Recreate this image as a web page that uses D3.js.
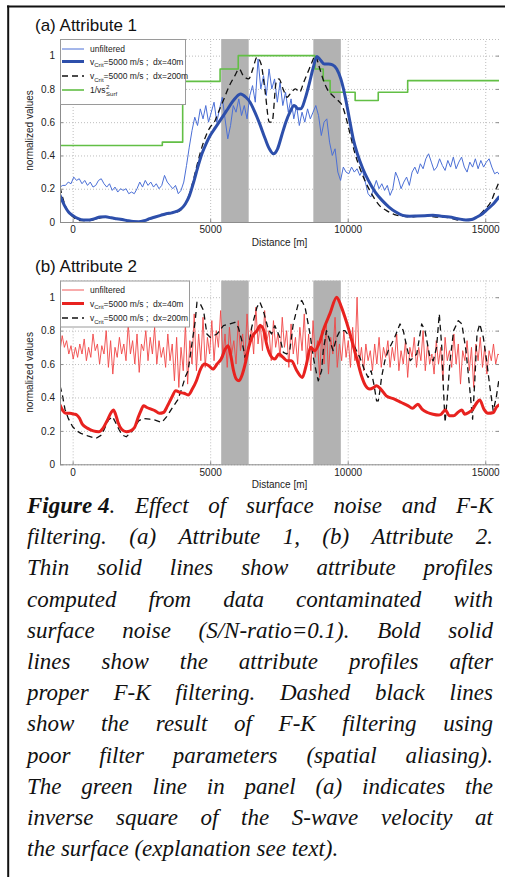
<!DOCTYPE html>
<html>
<head>
<meta charset="utf-8">
<script src="https://cdn.jsdelivr.net/npm/d3@7"></script>
<style>
html, body { margin: 0; padding: 0; background: #fff; }
svg { display: block; }
</style>
</head>
<body>
<script>
// ---- data ----
const xDomain = [-460, 15500]
const tickX = [0, 5000, 10000, 15000]
const tickY = [0, 0.2, 0.4, 0.6, 0.8, 1]
const bandStart = [5400, 8750]
const bandEnd = [6400, 9750]

// panel (a) unfiltered: regular grid, start -460 m, step 100 m
const unfiltA_x0 = -460, unfiltA_dx = 100
const unfiltA = [
  0.21, 0.22, 0.22, 0.24, 0.23, 0.27, 0.25, 0.26, 0.23, 0.25,
  0.22, 0.24, 0.21, 0.22, 0.25, 0.26, 0.23, 0.21, 0.23, 0.19,
  0.21, 0.18, 0.20, 0.19, 0.20, 0.17, 0.18, 0.17, 0.20, 0.24,
  0.21, 0.25, 0.22, 0.24, 0.21, 0.23, 0.20, 0.22, 0.28, 0.24,
  0.22, 0.20, 0.22, 0.17, 0.19,
  0.24, 0.34, 0.45, 0.55, 0.63, 0.58, 0.68, 0.62, 0.70, 0.60,
  0.66, 0.72, 0.60, 0.68, 0.75, 0.62, 0.50, 0.58, 0.70, 0.66,
  0.74, 0.64, 0.70, 0.62, 0.76, 0.82, 0.72, 0.98, 0.80, 0.88,
  0.76, 0.92, 0.80, 0.86, 0.72, 0.84, 0.70, 0.78, 0.66, 0.74,
  0.62, 0.70, 0.58, 0.66, 0.60, 0.68, 0.62, 0.66, 0.70, 0.64,
  0.52, 0.60, 0.62, 0.48, 0.40, 0.44, 0.30, 0.25, 0.33, 0.30,
  0.29, 0.33, 0.30, 0.32, 0.28, 0.31, 0.24, 0.17, 0.15, 0.20,
  0.25, 0.20, 0.23, 0.19, 0.22, 0.16, 0.20, 0.30, 0.26, 0.20,
  0.24, 0.27, 0.22, 0.30, 0.33, 0.29, 0.35, 0.32, 0.38, 0.41,
  0.36, 0.31, 0.33, 0.38, 0.34, 0.31, 0.37, 0.33, 0.39, 0.32,
  0.36, 0.39, 0.33, 0.30, 0.36, 0.33, 0.38, 0.32, 0.37, 0.33,
  0.36, 0.38, 0.33, 0.29, 0.30, 0.28
]

// panel (a) proper F-K filtering (dx=40m)
const filtA = [
  [-460, 0.16], [-300, 0.10], [-150, 0.06], [0, 0.04], [200, 0.02], [400, 0.012],
  [600, 0.012], [800, 0.02], [1000, 0.03], [1200, 0.032], [1400, 0.025], [1600, 0.02],
  [1800, 0.015], [2000, 0.008], [2200, 0.003], [2400, 0.002], [2600, 0.008], [2800, 0.02],
  [3000, 0.03], [3200, 0.04], [3400, 0.05], [3600, 0.055], [3800, 0.065], [3950, 0.08],
  [4100, 0.11], [4250, 0.16], [4400, 0.24], [4550, 0.33], [4700, 0.41], [4850, 0.47],
  [5000, 0.52], [5200, 0.57], [5400, 0.62], [5600, 0.67], [5800, 0.72], [6000, 0.76],
  [6100, 0.77], [6300, 0.75], [6450, 0.72], [6600, 0.67], [6800, 0.59], [7000, 0.50],
  [7150, 0.44], [7300, 0.41], [7450, 0.44], [7600, 0.52], [7750, 0.60], [7900, 0.66],
  [8050, 0.70], [8200, 0.68], [8300, 0.68], [8450, 0.74], [8600, 0.83], [8750, 0.93],
  [8880, 0.995], [9000, 0.975], [9150, 0.95], [9300, 0.95], [9450, 0.945], [9600, 0.92],
  [9750, 0.86], [9900, 0.76], [10050, 0.63], [10200, 0.50], [10350, 0.41], [10550, 0.32],
  [10750, 0.25], [11000, 0.18], [11250, 0.13], [11500, 0.09], [11750, 0.06], [12000, 0.04],
  [12250, 0.035], [12500, 0.036], [12800, 0.038], [13100, 0.04], [13400, 0.035], [13700, 0.03],
  [14000, 0.02], [14300, 0.012], [14500, 0.015], [14700, 0.03], [14900, 0.05], [15100, 0.08],
  [15300, 0.11], [15500, 0.15]
]

// panel (a) poor filter parameters (dx=200m)
const aliasA = [
  [-460, 0.21], [-400, 0.17], [-250, 0.09], [-100, 0.05], [100, 0.02], [300, 0.008],
  [600, 0.008], [900, 0.02], [1100, 0.028], [1300, 0.026], [1600, 0.018], [1900, 0.01],
  [2200, 0.0], [2500, 0.0], [2700, 0.01], [2900, 0.025], [3200, 0.04], [3500, 0.05],
  [3800, 0.06], [3950, 0.075], [4100, 0.11], [4250, 0.17], [4400, 0.26], [4550, 0.36],
  [4700, 0.45], [4850, 0.52], [5000, 0.57], [5150, 0.60], [5300, 0.66], [5500, 0.74],
  [5700, 0.82], [5900, 0.88], [6050, 0.92], [6200, 0.88], [6400, 0.86], [6550, 0.92],
  [6700, 0.99], [6850, 0.95], [7000, 0.78], [7150, 0.60], [7250, 0.60], [7400, 0.84],
  [7500, 0.86], [7650, 0.80], [7800, 0.75], [7950, 0.78], [8100, 0.80], [8250, 0.78],
  [8400, 0.84], [8550, 0.90], [8700, 0.96], [8820, 1.0], [8950, 0.94], [9100, 0.86],
  [9250, 0.80], [9450, 0.76], [9650, 0.73], [9800, 0.70], [9950, 0.62], [10100, 0.52],
  [10250, 0.42], [10450, 0.32], [10650, 0.24], [10900, 0.16], [11150, 0.10], [11400, 0.07],
  [11700, 0.045], [12000, 0.035], [12300, 0.03], [12600, 0.035], [12900, 0.035], [13200, 0.03],
  [13500, 0.03], [13800, 0.02], [14100, 0.01], [14400, 0.01], [14700, 0.03], [14950, 0.07],
  [15200, 0.12], [15350, 0.18], [15500, 0.24]
]

// panel (a) 1/vs^2 at the surface (step function, value holds until next x)
const greenX = [-460, 3260, 4000, 5360, 6020, 8810, 9110, 9360, 10270, 11110, 12180, 15500]
const greenY = [0.46, 0.48, 0.845, 0.92, 1.0, 0.92, 0.85, 0.78, 0.73, 0.78, 0.85, 0.85]

// panel (b) unfiltered: regular grid, start -460 m, step 80 m
const unfiltB_x0 = -460, unfiltB_dx = 80
const unfiltB = [
  0.68, 0.77, 0.70, 0.74, 0.66, 0.71, 0.63, 0.70, 0.64, 0.72,
  0.66, 0.75, 0.62, 0.70, 0.64, 0.78, 0.68, 0.72, 0.60, 0.71,
  0.66, 0.80, 0.58, 0.74, 0.54, 0.70, 0.64, 0.76, 0.66, 0.72,
  0.62, 0.84, 0.66, 0.74, 0.60, 0.78, 0.55, 0.72, 0.68, 0.80,
  0.62, 0.76, 0.66, 0.82, 0.60, 0.74, 0.64, 0.70, 0.58, 0.78,
  0.62, 0.72, 0.50, 0.76, 0.46, 0.70, 0.56, 0.84, 0.48, 0.74,
  0.60, 0.90, 0.56, 0.78, 0.62, 0.88, 0.58, 0.76, 0.66, 0.86,
  0.62, 0.80, 0.70, 0.92, 0.64, 0.78, 0.58, 0.82, 0.66, 0.74,
  0.60, 0.86, 0.68, 0.78, 0.62, 0.90, 0.70, 0.82, 0.66, 0.94,
  0.72, 0.84, 0.68, 0.92, 0.74, 0.80, 0.62, 0.86, 0.70, 0.78,
  0.64, 0.88, 0.70, 0.80, 0.58, 0.84, 0.66, 0.76, 0.60, 0.82,
  0.68, 0.90, 0.62, 0.78, 0.56, 0.86, 0.64, 0.74, 0.52, 0.80,
  0.60, 0.84, 0.54, 0.76, 0.66, 0.88, 0.58, 0.72, 0.62, 0.80,
  0.64, 0.74, 0.58, 0.82, 0.62, 1.00, 0.60, 0.70, 0.56, 0.72,
  0.62, 0.68, 0.56, 0.72, 0.60, 0.76, 0.58, 0.70, 0.64, 0.74,
  0.58, 0.70, 0.62, 0.78, 0.56, 0.68, 0.60, 0.74, 0.52, 0.70,
  0.64, 0.76, 0.58, 0.70, 0.62, 0.80, 0.56, 0.72, 0.60, 0.66,
  0.54, 0.74, 0.60, 0.70, 0.50, 0.76, 0.62, 0.68, 0.58, 0.78,
  0.60, 0.72, 0.48, 0.68, 0.62, 0.74, 0.56, 0.70, 0.46, 0.72,
  0.62, 0.76, 0.58, 0.70, 0.54, 0.68, 0.62, 0.72, 0.60, 0.66,
  0.65
]

// panel (b) proper F-K filtering (dx=40m)
const filtB = [
  [-460, 0.355], [-350, 0.32], [-250, 0.305], [-100, 0.305], [50, 0.30], [150, 0.295],
  [250, 0.275], [350, 0.24], [550, 0.215], [750, 0.20], [950, 0.195], [1100, 0.215],
  [1250, 0.26], [1400, 0.31], [1480, 0.325], [1560, 0.30], [1650, 0.25], [1780, 0.21],
  [1950, 0.195], [2100, 0.20], [2250, 0.22], [2380, 0.28], [2480, 0.32], [2580, 0.35],
  [2700, 0.34], [2850, 0.33], [3000, 0.32], [3150, 0.305], [3300, 0.31], [3450, 0.35],
  [3600, 0.40], [3750, 0.44], [3900, 0.43], [4050, 0.425], [4200, 0.415], [4350, 0.45],
  [4500, 0.50], [4650, 0.57], [4800, 0.60], [4950, 0.59], [5100, 0.57], [5250, 0.60],
  [5400, 0.63], [5550, 0.69], [5650, 0.71], [5750, 0.65], [5850, 0.56], [5950, 0.51],
  [6050, 0.50], [6150, 0.53], [6300, 0.62], [6400, 0.70], [6550, 0.77], [6700, 0.80],
  [6820, 0.83], [6950, 0.80], [7050, 0.72], [7200, 0.65], [7350, 0.63], [7500, 0.66],
  [7650, 0.64], [7800, 0.62], [7950, 0.62], [8150, 0.56], [8350, 0.52], [8500, 0.60],
  [8650, 0.70], [8800, 0.68], [8950, 0.72], [9150, 0.82], [9350, 0.90], [9600, 1.0],
  [9750, 0.95], [9900, 0.88], [10050, 0.80], [10200, 0.71], [10350, 0.62], [10500, 0.53],
  [10650, 0.47], [10800, 0.45], [10950, 0.46], [11050, 0.47], [11200, 0.45], [11400, 0.41],
  [11700, 0.39], [11950, 0.37], [12200, 0.35], [12350, 0.335], [12550, 0.36], [12700, 0.33],
  [12900, 0.31], [13100, 0.30], [13300, 0.295], [13400, 0.30], [13550, 0.325], [13700, 0.29],
  [13850, 0.29], [14000, 0.31], [14150, 0.325], [14250, 0.30], [14400, 0.31], [14550, 0.33],
  [14700, 0.37], [14800, 0.385], [14950, 0.33], [15100, 0.305], [15300, 0.31], [15400, 0.34],
  [15500, 0.355]
]

// panel (b) poor filter parameters (dx=200m)
const aliasB = [
  [-460, 0.47], [-380, 0.42], [-280, 0.33], [-160, 0.275], [0, 0.225], [150, 0.20],
  [300, 0.185], [550, 0.17], [850, 0.155], [1050, 0.175], [1300, 0.265], [1450, 0.285],
  [1560, 0.25], [1680, 0.21], [1800, 0.175], [1950, 0.165], [2150, 0.195], [2400, 0.26],
  [2560, 0.275], [2800, 0.27], [3000, 0.265], [3240, 0.25], [3420, 0.285], [3650, 0.345],
  [3820, 0.385], [3950, 0.445], [4100, 0.525], [4200, 0.56], [4300, 0.68], [4450, 0.85],
  [4520, 0.97], [4640, 0.96], [4760, 0.92], [4880, 0.78], [5000, 0.76], [5250, 0.78],
  [5480, 0.83], [5720, 0.84], [5900, 0.85], [6020, 0.82], [6150, 0.74], [6270, 0.64],
  [6390, 0.70], [6510, 0.82], [6700, 0.94], [6810, 0.97], [6930, 0.92], [7110, 0.81],
  [7230, 0.78], [7350, 0.83], [7530, 0.76], [7660, 0.67], [7780, 0.66], [7900, 0.69],
  [8020, 0.84], [8200, 0.96], [8330, 0.98], [8450, 0.94], [8630, 0.78], [8750, 0.64],
  [8870, 0.54], [8930, 0.50], [9050, 0.56], [9110, 0.68], [9230, 0.80], [9350, 0.74],
  [9470, 0.68], [9600, 0.76], [9720, 0.80], [9900, 0.80], [10080, 0.76], [10260, 0.70],
  [10440, 0.64], [10620, 0.56], [10740, 0.52], [10850, 0.56], [10950, 0.48], [11050, 0.38],
  [11110, 0.38], [11170, 0.44], [11230, 0.52], [11350, 0.62], [11470, 0.68], [11710, 0.76],
  [11900, 0.84], [12020, 0.80], [12150, 0.70], [12270, 0.62], [12510, 0.66], [12690, 0.84],
  [12810, 0.80], [12990, 0.64], [13110, 0.62], [13230, 0.70], [13330, 0.90], [13420, 0.70],
  [13480, 0.45], [13540, 0.25], [13620, 0.40], [13720, 0.62], [13850, 0.80], [14020, 0.86],
  [14150, 0.84], [14300, 0.68], [14420, 0.48], [14540, 0.27], [14620, 0.50], [14700, 0.78],
  [14800, 0.84], [14930, 0.76], [15050, 0.62], [15170, 0.46], [15290, 0.32], [15400, 0.40],
  [15500, 0.51]
]

// caption; the first two words form the bold "Figure 4" label
const captionLines = [
  'Figure 4.  Effect of surface noise and F-K',
  'filtering. (a) Attribute 1, (b) Attribute 2.',
  'Thin solid lines show attribute profiles',
  'computed from data contaminated with',
  'surface noise (S/N-ratio=0.1). Bold solid',
  'lines show the attribute profiles after',
  'proper F-K filtering. Dashed black lines',
  'show the result of F-K filtering using',
  'poor filter parameters (spatial aliasing).',
  'The green line in panel (a) indicates the',
  'inverse square of the S-wave velocity at',
  'the surface (explanation see text).'
]

// ---- drawing ----
const W = 505, H = 877
const sans = 'Liberation Sans, Arial, sans-serif'
const svg = d3.select('body').append('svg').attr('width', W).attr('height', H)

// frame (left and top rule of the figure box)
svg.append('line').attr('x1', 7).attr('y1', 6.5).attr('x2', W).attr('y2', 6.5)
  .attr('stroke', '#111').attr('stroke-width', 2)
svg.append('line').attr('x1', 8.2).attr('y1', 5.5).attr('x2', 8.2).attr('y2', H)
  .attr('stroke', '#111').attr('stroke-width', 2)

const x = d3.scaleLinear().domain(xDomain).range([60, 499])

const gridPts = (vals, x0, dx) => vals.map((v, i) => [x0 + i*dx, v])

function drawPanel(p) {
  const {top, bottom, id} = p
  const y = d3.scaleLinear().domain([0, 1.1]).range([bottom, top])
  const g = svg.append('g').attr('id', id)

  svg.append('clipPath').attr('id', `clip-${id}`).append('rect')
    .attr('x', 60).attr('y', top).attr('width', 439).attr('height', bottom - top)

  // title
  svg.append('text').attr('x', 35).attr('y', p.titleY)
    .style('font', `17px ${sans}`).attr('fill', '#111').text(p.title)

  // dotted grid
  g.append('g').attr('transform', `translate(0,${bottom})`)
    .call(d3.axisBottom(x).tickValues(tickX).tickSize(-(bottom - top)).tickFormat(''))
    .call(s => s.select('.domain').remove())
    .selectAll('line').attr('stroke', '#bdbdbd').attr('stroke-dasharray', '1,2')
  g.append('g').attr('transform', 'translate(60,0)')
    .call(d3.axisLeft(y).tickValues(tickY.concat([1.1])).tickSize(-439).tickFormat(''))
    .call(s => s.select('.domain').remove())
    .selectAll('line').attr('stroke', '#bdbdbd').attr('stroke-dasharray', '1,2')

  // grey bands
  bandStart.forEach((s, i) => {
    g.append('rect').attr('x', x(s)).attr('y', top)
      .attr('width', x(bandEnd[i]) - x(s)).attr('height', bottom - top)
      .attr('fill', '#b2b2b2')
  })

  // series
  const lines = g.append('g').attr('clip-path', `url(#clip-${id})`)
  p.series.forEach(s => {
    const gen = d3.line().x(d => x(d[0])).y(d => y(d[1])).curve(s.curve || d3.curveLinear)
    lines.append('path').datum(s.data).attr('d', gen)
      .attr('fill', 'none').attr('stroke', s.color).attr('stroke-width', s.width)
      .attr('stroke-dasharray', s.dash || null)
      .attr('stroke-linejoin', 'round').attr('stroke-linecap', s.dash ? 'butt' : 'round')
  })

  // axes
  const ax = g.append('g').attr('transform', `translate(0,${bottom})`)
    .call(d3.axisBottom(x).tickValues(tickX).tickSizeInner(-3).tickSizeOuter(0)
      .tickPadding(p.xPad).tickFormat(d3.format('d')))
  const ay = g.append('g').attr('transform', 'translate(60,0)')
    .call(d3.axisLeft(y).tickValues(tickY).tickSizeInner(-3).tickSizeOuter(0).tickPadding(5)
      .tickFormat(d => d === 0 ? '0' : d === 1 ? '1' : d.toFixed(1)))
  ;[ax, ay].forEach(a => {
    a.select('.domain').attr('stroke', '#8c8c8c')
    a.selectAll('.tick line').attr('stroke', '#8c8c8c')
    a.selectAll('text').style('font', `10px ${sans}`).attr('fill', '#222')
  })
  // right-hand ticks (box)
  g.append('g').attr('transform', 'translate(499,0)')
    .call(d3.axisRight(y).tickValues(tickY).tickSizeInner(-3).tickSizeOuter(0).tickFormat(''))
    .call(s => s.select('.domain').remove())
    .selectAll('line').attr('stroke', '#8c8c8c')

  g.append('text').attr('x', 279.5).attr('y', bottom + 24).attr('text-anchor', 'middle')
    .style('font', `10px ${sans}`).attr('fill', '#222').text('Distance [m]')
  g.append('text').attr('transform', `translate(33,${(top + bottom)/2}) rotate(-90)`)
    .attr('text-anchor', 'middle')
    .style('font', `10px ${sans}`).attr('fill', '#222').text('normalized values')

  // legend
  const L = p.legend
  const lg = g.append('g')
  lg.append('rect').attr('x', 60.5).attr('y', top + 0.5).attr('width', L.w).attr('height', L.h)
    .attr('fill', '#fff').attr('stroke', '#9a9a9a').attr('stroke-width', 1)
  L.items.forEach(it => {
    const s = p.series[it.series]
    lg.append('line').attr('x1', 62).attr('x2', 84).attr('y1', it.y).attr('y2', it.y)
      .attr('stroke', s.color).attr('stroke-width', s.width).attr('stroke-dasharray', s.dash || null)
    const t = lg.append('text').attr('x', 90).attr('y', it.y + 3)
      .style('font', `8.5px ${sans}`).style('white-space', 'pre').attr('fill', '#222')
    if (it.kind === 'plain') {
      t.text(it.text)
    } else if (it.kind === 'vcrit') {
      t.append('tspan').text('v')
      t.append('tspan').attr('dy', 2.5).style('font-size', '6px').text('Crit')
      t.append('tspan').attr('dy', -2.5).text(it.text)
    } else if (it.kind === 'vs') {
      t.text(it.text)
      const w = t.node().getComputedTextLength()
      lg.append('text').attr('x', 90 + w + 0.5).attr('y', it.y - 1)
        .style('font', `6px ${sans}`).attr('fill', '#222').text('2')
      lg.append('text').attr('x', 90 + w + 0.5).attr('y', it.y + 5.5)
        .style('font', `6px ${sans}`).attr('fill', '#222').text('Surf')
    }
  })
}

drawPanel({
  id: 'pa', top: 39, bottom: 222, title: '(a) Attribute 1', titleY: 31, xPad: 4,
  series: [
    {data: gridPts(unfiltA, unfiltA_x0, unfiltA_dx), color: '#4b6fd6', width: 1},
    {data: greenX.map((v, i) => [v, greenY[i]]), color: '#62bf45', width: 1.6, curve: d3.curveStepAfter},
    {data: aliasA, color: '#111', width: 1.3, dash: '6,4', curve: d3.curveMonotoneX},
    {data: filtA, color: '#2d4fab', width: 3, curve: d3.curveMonotoneX}
  ],
  legend: {w: 125, h: 65, items: [
    {series: 0, y: 49, kind: 'plain', text: 'unfiltered'},
    {series: 3, y: 61.5, kind: 'vcrit', text: '=5000 m/s ;  dx=40m'},
    {series: 2, y: 76, kind: 'vcrit', text: '=5000 m/s ;  dx=200m'},
    {series: 1, y: 90, kind: 'vs', text: '1/vs'}
  ]}
})

drawPanel({
  id: 'pb', top: 280.5, bottom: 464.3, title: '(b) Attribute 2', titleY: 272, xPad: 5,
  series: [
    {data: gridPts(unfiltB, unfiltB_x0, unfiltB_dx), color: '#f04646', width: 0.9},
    {data: aliasB, color: '#111', width: 1.3, dash: '6,4'},
    {data: filtB, color: '#e8221f', width: 3, curve: d3.curveMonotoneX}
  ],
  legend: {w: 129, h: 46, items: [
    {series: 0, y: 290, kind: 'plain', text: 'unfiltered'},
    {series: 2, y: 303.5, kind: 'vcrit', text: '=5000 m/s ;  dx=40m'},
    {series: 1, y: 318, kind: 'vcrit', text: '=5000 m/s ;  dx=200m'}
  ]}
})

// ---- caption, justified line by line ----
const capX0 = 27, capX1 = 493, capY0 = 513, capDy = 31.2
const cap = svg.append('g').style('font', 'italic 23px "Liberation Serif", "Times New Roman", serif')
  .attr('fill', '#111')
captionLines.forEach((line, li) => {
  let words = line.split(/\s+/)
  if (li === 0) words = [words[0] + ' ' + words[1]].concat(words.slice(2))
  const t = cap.append('text').attr('y', capY0 + li*capDy).style('white-space', 'pre')
  const spans = words.map((w, wi) => {
    const sp = t.append('tspan')
    if (li === 0 && wi === 0) {
      sp.append('tspan').style('font-weight', 'bold').text('Figure 4')
      sp.append('tspan').text('.')
    } else {
      sp.text(w)
    }
    return sp
  })
  const widths = spans.map(s => s.node().getComputedTextLength())
  const total = d3.sum(widths)
  const last = li === captionLines.length - 1
  const gap = last ? 5.8 : (capX1 - capX0 - total) / (words.length - 1)
  let cx = capX0
  spans.forEach((s, i) => {
    s.attr('x', cx)
    cx += widths[i] + gap
  })
})
</script>
</body>
</html>
